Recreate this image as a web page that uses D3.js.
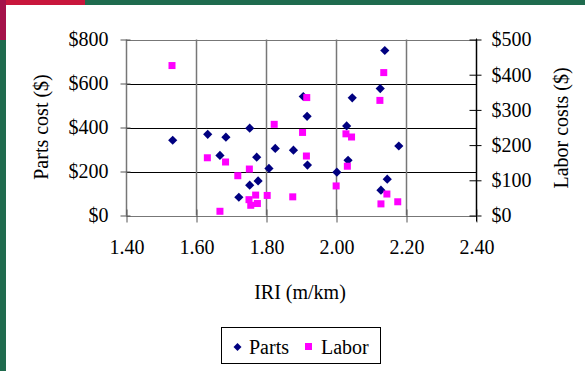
<!DOCTYPE html>
<html><head><meta charset="utf-8">
<script src="https://cdn.jsdelivr.net/npm/d3@7"></script>
<style>
html,body{margin:0;padding:0;background:#fff;}
svg{display:block;}
text{font-family:"Liberation Serif","Times New Roman",serif;fill:#000;}
</style></head>
<body>
<script>
// ---- data ----
const partsIRI  = [1.532,1.632,1.684,1.752,1.667,1.772,1.721,1.752,1.776,1.807,1.825,1.877,1.905,1.916,1.917,2.001,2.029,2.045,2.033,2.138,2.125,2.178,2.145,2.127];
const partsCost = [342,369,356,397,273,265,83,138,157,214,305,297,541,451,229,197,407,535,251,750,577,316,165,115];
const laborIRI  = [1.530,1.631,1.683,1.718,1.751,1.667,1.750,1.769,1.774,1.755,1.802,1.822,1.875,1.903,1.915,1.914,1.999,2.027,2.043,2.031,2.135,2.124,2.144,2.127,2.175];
const laborCost = [426,164,152,113,132,12,45,58,34,29,57,259,53,236,335,169,84,232,223,140,406,327,61,33,39];
const xTicks = [1.40,1.60,1.80,2.00,2.20,2.40];
const leftTicks = [0,200,400,600,800];
const rightTicks = [0,100,200,300,400,500];
const seriesNames = ["Parts","Labor"];

const W=585,H=371;
const svg=d3.select("body").append("svg").attr("width",W).attr("height",H);

// frame
const green="#1f6b4e";
svg.append("rect").attr("x",0).attr("y",0).attr("width",W).attr("height",5).attr("fill",green);
svg.append("rect").attr("x",0).attr("y",0).attr("width",6).attr("height",H).attr("fill",green);
svg.append("rect").attr("x",0).attr("y",0).attr("width",85).attr("height",5).attr("fill","#c8163c");
svg.append("rect").attr("x",0).attr("y",0).attr("width",6).attr("height",40).attr("fill","#a5124a");

const L=126.5,R=476.5,T=39.5,B=215.5;
const x=d3.scaleLinear().domain([1.4,2.4]).range([L,R]);
const yL=d3.scaleLinear().domain([0,800]).range([B,T]);
const yR=d3.scaleLinear().domain([0,500]).range([B,T]);

// gridlines
const g=svg.append("g");
g.selectAll(".hg").data(leftTicks).enter().append("line")
 .attr("x1",L).attr("x2",R).attr("y1",d=>Math.round(yL(d))+0.5).attr("y2",d=>Math.round(yL(d))+0.5)
 .attr("stroke",(d,i)=>(d===0||d===800)?"#777":"#000").attr("stroke-width",1);
g.selectAll(".vg").data(xTicks).enter().append("line")
 .attr("x1",d=>x(d)).attr("x2",d=>x(d)).attr("y1",T).attr("y2",B)
 .attr("stroke",(d,i)=>d>=2.39?"#000":"#777").attr("stroke-width",1.5);

// axes
const axL=d3.axisLeft(yL).tickValues(leftTicks).tickSizeInner(6).tickSizeOuter(0).tickPadding(12).tickFormat(d=>"$"+d);
const gL=svg.append("g").attr("transform",`translate(${L},0)`).call(axL);
const axR=d3.axisRight(yR).tickValues(rightTicks).tickSizeInner(5).tickSizeOuter(0).tickPadding(10).tickFormat(d=>"$"+d);
const gR=svg.append("g").attr("transform",`translate(${R},0)`).call(axR);
const axB=d3.axisBottom(x).tickValues(xTicks).tickSizeInner(7).tickSizeOuter(0).tickPadding(17).tickFormat(d3.format(".2f"));
const gB=svg.append("g").attr("transform",`translate(0,${B})`).call(axB);
[gL,gR,gB].forEach(a=>{
  a.attr("font-family",null).attr("font-size",null);
  a.selectAll("text").style("font-size","20px").style("font-family","'Liberation Serif',serif");
  a.select(".domain").remove();
});
gL.selectAll(".tick line").attr("x1",4).attr("stroke","#555");
gR.selectAll(".tick line").attr("x1",-7).attr("stroke","#000");
gB.selectAll(".tick line").attr("y1",-6).attr("stroke","#555");
svg.append("line").attr("x1",R).attr("x2",R).attr("y1",T-1).attr("y2",B+6).attr("stroke","#000");

// titles
svg.append("text").attr("transform","translate(48,127) rotate(-90)").attr("text-anchor","middle").style("font-size","20px").text("Parts cost ($)");
svg.append("text").attr("transform","translate(568,128) rotate(-90)").attr("text-anchor","middle").style("font-size","20px").text("Labor costs ($)");
svg.append("text").attr("x",300).attr("y",299).attr("text-anchor","middle").style("font-size","20px").text("IRI (m/km)");

// points
const diamond="M0,-4.6L4.6,0L0,4.6L-4.6,0Z";
svg.append("g").selectAll("path").data(partsIRI.map((v,i)=>[v,partsCost[i]])).enter().append("path")
 .attr("d",diamond).attr("transform",d=>`translate(${x(d[0])},${yL(d[1])})`).attr("fill","#000080");
svg.append("g").selectAll("rect").data(laborIRI.map((v,i)=>[v,laborCost[i]])).enter().append("rect")
 .attr("x",d=>x(d[0])-3.5).attr("y",d=>yR(d[1])-3.5).attr("width",7).attr("height",7).attr("fill","#ff00ff");

// legend
const lg=svg.append("g");
lg.append("rect").attr("x",221.5).attr("y",327.5).attr("width",159).attr("height",36).attr("fill","#fff").attr("stroke","#000");
lg.append("path").attr("d","M0,-4L4,0L0,4L-4,0Z").attr("transform","translate(237.5,347)").attr("fill","#000080");
lg.append("text").attr("x",249).attr("y",354).style("font-size","20px").text(seriesNames[0]);
lg.append("rect").attr("x",305).attr("y",343).attr("width",7).attr("height",7).attr("fill","#ff00ff");
lg.append("text").attr("x",321).attr("y",354).style("font-size","20px").text(seriesNames[1]);
</script>
</body></html>
